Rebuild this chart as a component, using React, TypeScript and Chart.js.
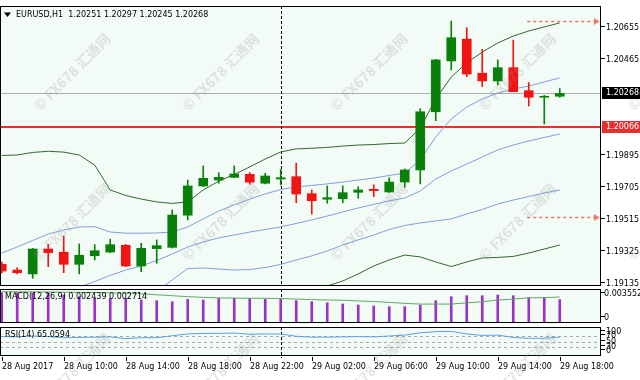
import React, { useEffect, useRef } from "react";
import { Chart, registerables } from "chart.js";

Chart.register(...registerables);

// ---------------- data ----------------
const symbolTitle = "EURUSD,H1  1.20251 1.20297 1.20245 1.20268";
const macdTitle = "MACD(12,26,9) 0.002439 0.002714";
const rsiTitle = "RSI(14) 65.0594";

const xTickIndex = [0, 4, 8, 12, 16, 20, 24, 28, 32, 36];
const xTickLabels = [
  "28 Aug 2017", "28 Aug 10:00", "28 Aug 14:00", "28 Aug 18:00", "28 Aug 22:00",
  "29 Aug 02:00", "29 Aug 06:00", "29 Aug 10:00", "29 Aug 14:00", "29 Aug 18:00",
];

const openP = [
  1.19252, 1.19218, 1.19195, 1.19343, 1.19324, 1.19252, 1.19303, 1.19325, 1.19365, 1.19242,
  1.19345, 1.19353, 1.19544, 1.19718, 1.19753, 1.19769, 1.19787, 1.19734, 1.19759, 1.19773,
  1.19672, 1.19639, 1.19642, 1.19680, 1.19698, 1.19682, 1.19741, 1.19813, 1.20159, 1.20461,
  1.20591, 1.20388, 1.20342, 1.20421, 1.20284, 1.20245, 1.20251,
];
const highP = [
  1.19266, 1.19232, 1.19347, 1.19371, 1.19420, 1.19373, 1.19369, 1.19401, 1.19371, 1.19377,
  1.19397, 1.19575, 1.19753, 1.19837, 1.19797, 1.19837, 1.19797, 1.19793, 1.19817, 1.19853,
  1.19694, 1.19718, 1.19718, 1.19713, 1.19724, 1.19767, 1.19819, 1.20177, 1.20470, 1.20698,
  1.20659, 1.20530, 1.20467, 1.20585, 1.20332, 1.20256, 1.20297,
];
const lowP = [
  1.19201, 1.19195, 1.19169, 1.19238, 1.19202, 1.19195, 1.19278, 1.19321, 1.19238, 1.19208,
  1.19258, 1.19349, 1.19516, 1.19715, 1.19734, 1.19767, 1.19728, 1.19730, 1.19724, 1.19618,
  1.19551, 1.19615, 1.19618, 1.19645, 1.19654, 1.19679, 1.19710, 1.19730, 1.20106, 1.20407,
  1.20367, 1.20308, 1.20318, 1.20278, 1.20193, 1.20086, 1.20245,
];
const closeP = [
  1.19212, 1.19202, 1.19343, 1.19321, 1.19252, 1.19306, 1.19333, 1.19369, 1.19242, 1.19347,
  1.19363, 1.19545, 1.19718, 1.19763, 1.19769, 1.19789, 1.19740, 1.19777, 1.19767, 1.19670,
  1.19630, 1.19648, 1.19678, 1.19694, 1.19690, 1.19741, 1.19813, 1.20159, 1.20467, 1.20599,
  1.20383, 1.20342, 1.20421, 1.20278, 1.20245, 1.20251, 1.20268,
];

// Bollinger bands (outer = green, inner = blue, shared middle)
const bbOuterUpper = [
  1.19899, 1.19902, 1.19917, 1.19924, 1.19919, 1.19902, 1.19842, 1.19694, 1.19661, 1.19640,
  1.19623, 1.19614, 1.19623, 1.19694, 1.19747, 1.19786, 1.19831, 1.19878, 1.19920, 1.19938,
  1.19942, 1.19947, 1.19955, 1.19961, 1.19964, 1.19970, 1.19973, 1.20062, 1.20235, 1.20366,
  1.20449, 1.20514, 1.20568, 1.20609, 1.20639, 1.20663, 1.20687,
];
const bbInnerUpper = [
  1.19319, 1.19355, 1.19394, 1.19432, 1.19456, 1.19474, 1.19476, 1.19444, 1.19437, 1.19437,
  1.19438, 1.19444, 1.19474, 1.19522, 1.19569, 1.19605, 1.19640, 1.19670, 1.19697, 1.19712,
  1.19721, 1.19730, 1.19741, 1.19753, 1.19765, 1.19780, 1.19795, 1.19872, 1.20009, 1.20116,
  1.20187, 1.20235, 1.20270, 1.20294, 1.20312, 1.20336, 1.20360,
];
const bbMiddle = [
  null, null, null, null, null, 1.19117, 1.19150, 1.19186, 1.19218, 1.19242,
  1.19275, 1.19313, 1.19355, 1.19385, 1.19409, 1.19426, 1.19444, 1.19459, 1.19474, 1.19495,
  1.19516, 1.19539, 1.19563, 1.19587, 1.19608, 1.19629, 1.19646, 1.19688, 1.19759, 1.19807,
  1.19848, 1.19890, 1.19932, 1.19961, 1.19985, 1.20006, 1.20027,
];
const bbInnerLower = [
  null, null, null, null, null, null, null, null, null, null,
  1.19088, 1.19159, 1.19227, 1.19230, 1.19224, 1.19218, 1.19221, 1.19233, 1.19251, 1.19278,
  1.19302, 1.19331, 1.19367, 1.19397, 1.19426, 1.19459, 1.19483, 1.19498, 1.19510, 1.19522,
  1.19551, 1.19578, 1.19611, 1.19634, 1.19655, 1.19676, 1.19694,
];
const bbOuterLower = [
  null, null, null, null, null, null, null, null, null, null,
  null, null, null, null, null, null, null, null, null, null,
  1.19082, 1.19123, 1.19153, 1.19195, 1.19242, 1.19278, 1.19307, 1.19296, 1.19266, 1.19239,
  1.19266, 1.19290, 1.19293, 1.19299, 1.19319, 1.19343, 1.19367,
];

const macdHist = [
  0.003165, 0.003165, 0.003103, 0.003103, 0.002925, 0.002748, 0.00258, 0.00258, 0.00258, 0.002403,
  0.00233, 0.002225, 0.002476, 0.002403, 0.00258, 0.00258, 0.00258, 0.002476, 0.002476, 0.00233,
  0.002225, 0.002121, 0.001985, 0.00188, 0.001776, 0.001703, 0.001703, 0.00188, 0.00233, 0.002748,
  0.002852, 0.002852, 0.002925, 0.002852, 0.002643, 0.002643, 0.002439,
];
const macdSignal = [
  0.00327, 0.00326, 0.00325, 0.00324, 0.00322, 0.0032, 0.00318, 0.00315, 0.00312, 0.00305,
  0.00295, 0.00285, 0.00275, 0.00268, 0.00262, 0.0026, 0.00258, 0.00258, 0.00256, 0.0025,
  0.00245, 0.0024, 0.00238, 0.0023, 0.00224, 0.00215, 0.00205, 0.00198, 0.00198, 0.00198,
  0.0021, 0.00222, 0.0024, 0.0025, 0.00263, 0.00265, 0.002714,
];
const rsiValues = [
  67, 66, 69, 67, 63, 64, 65, 66, 60, 63,
  63, 70, 76, 78, 78, 79, 75, 76, 76, 68,
  65, 65, 66, 67, 66, 69, 72, 80, 84, 85,
  76, 71, 72, 64, 61, 61, 65.0594,
];

const priceTicks = [1.20655, 1.20465, 1.19895, 1.19705, 1.19515, 1.19325, 1.19135];
const currentPrice = 1.20268;
const levelPrice = 1.20066;
const arrowPrices = [1.20696, 1.19531];
const arrowFromIndex = 33.9;
const vlineIndex = 18;
const macdAxisLabels = [0.003552, 0];
const rsiLevels = [70, 50, 30];
const rsiAxisLabels = [100, 70, 50, 30, 0];

// ---------------- styling ----------------
const PANEL_BG = "#f3fbf6";
const BULL = "#0a800a";
const BEAR = "#f01414";
const BAND_GREEN = "#2f6a2f";
const BAND_BLUE = "#7f9ee0";
const MACD_BAR = "#9a32c8";
const MACD_SIG = "#62a862";
const RSI_LINE = "#5aa3e4";
const ARROW = "#f07a62";
const LEVEL_RED = "#e83030";
const FONT = '8px "DejaVu Sans", sans-serif';

const X_MIN = -0.11;
const X_MAX = 38.66;
const PRICE_MIN = 1.191231;
const PRICE_MAX = 1.207876;

const idx = openP.map((_, i) => i);
const candleColors = idx.map((i) => (closeP[i] >= openP[i] ? BULL : BEAR));

function baseOptions(padding: any, yMin: number, yMax: number) {
  return {
    responsive: false,
    animation: false,
    devicePixelRatio: 1,
    events: [],
    layout: { padding },
    plugins: { legend: { display: false }, tooltip: { enabled: false }, title: { display: false } },
    scales: {
      x: { type: "linear", display: false, min: X_MIN, max: X_MAX, offset: false },
      y: { type: "linear", display: false, min: yMin, max: yMax },
    },
  };
}

function seriesLine(values: (number | null)[], color: string, order: number) {
  return {
    type: "line",
    data: values.map((v, i) => ({ x: i, y: v })),
    borderColor: color,
    borderWidth: 1,
    pointRadius: 0,
    fill: false,
    tension: 0,
    order,
  };
}

function fillBg(chart: any) {
  const { ctx, chartArea: a } = chart;
  ctx.save();
  ctx.fillStyle = PANEL_BG;
  ctx.fillRect(a.left, a.top, a.right - a.left, a.bottom - a.top);
  ctx.restore();
}

function drawBorder(ctx: any, a: any) {
  ctx.save();
  ctx.strokeStyle = "#000";
  ctx.lineWidth = 1;
  ctx.setLineDash([]);
  ctx.strokeRect(Math.round(a.left) + 0.5, Math.round(a.top) + 0.5, Math.round(a.right - a.left) - 1, Math.round(a.bottom - a.top) - 1);
  ctx.restore();
}

function drawVLine(chart: any, extraBottom: number) {
  const { ctx, chartArea: a, scales } = chart;
  const px = Math.round(scales.x.getPixelForValue(vlineIndex)) + 0.5;
  ctx.save();
  ctx.strokeStyle = "#000";
  ctx.lineWidth = 1;
  ctx.setLineDash([3, 2]);
  ctx.beginPath();
  ctx.moveTo(px, a.top);
  ctx.lineTo(px, a.bottom + extraBottom);
  ctx.stroke();
  ctx.restore();
}

function sideLabel(ctx: any, a: any, text: string, yy: number, dx = 5) {
  ctx.fillStyle = "#000";
  ctx.fillRect(a.right, Math.round(yy) - 2, 4, 1);
  ctx.font = FONT;
  ctx.textAlign = "left";
  ctx.textBaseline = "middle";
  ctx.fillText(text, a.right + dx, yy);
}

function panelTitle(ctx: any, text: string, x: number, y: number) {
  ctx.save();
  ctx.font = FONT;
  ctx.fillStyle = "#000";
  ctx.textAlign = "left";
  ctx.textBaseline = "middle";
  ctx.fillText(text, x, y);
  ctx.restore();
}

// ---------------- plugins ----------------
const mainDecor = {
  id: "mainDecor",
  beforeDraw(chart: any) {
    fillBg(chart);
  },
  beforeDatasetsDraw(chart: any) {
    const { ctx, chartArea: a, scales } = chart;
    const ys = scales.y;
    ctx.save();
    ctx.lineWidth = 1;
    const yc = Math.round(ys.getPixelForValue(currentPrice)) + 0.5;
    ctx.strokeStyle = "#a9aeab";
    ctx.beginPath();
    ctx.moveTo(a.left, yc);
    ctx.lineTo(a.right, yc);
    ctx.stroke();
    const yl = Math.round(ys.getPixelForValue(levelPrice));
    ctx.strokeStyle = LEVEL_RED;
    ctx.lineWidth = 2;
    ctx.beginPath();
    ctx.moveTo(a.left, yl);
    ctx.lineTo(a.right, yl);
    ctx.stroke();
    ctx.restore();
    drawVLine(chart, 0);
  },
  afterDatasetsDraw(chart: any) {
    const { ctx, chartArea: a, scales } = chart;
    const xs = scales.x;
    const ys = scales.y;
    ctx.save();
    // dotted price arrows
    for (const p of arrowPrices) {
      const yy = Math.round(ys.getPixelForValue(p)) + 0.5;
      const x0 = xs.getPixelForValue(arrowFromIndex);
      const x1 = a.right - 7;
      ctx.strokeStyle = ARROW;
      ctx.fillStyle = ARROW;
      ctx.lineWidth = 1.3;
      ctx.setLineDash([3, 3]);
      ctx.beginPath();
      ctx.moveTo(x0, yy);
      ctx.lineTo(x1, yy);
      ctx.stroke();
      ctx.setLineDash([]);
      ctx.beginPath();
      ctx.moveTo(x1, yy - 3.5);
      ctx.lineTo(a.right - 1.5, yy);
      ctx.lineTo(x1, yy + 3.5);
      ctx.closePath();
      ctx.fill();
    }
    ctx.restore();
    drawBorder(ctx, a);
    ctx.save();
    for (const t of priceTicks) sideLabel(ctx, a, t.toFixed(5), ys.getPixelForValue(t));
    const boxes = [
      { v: currentPrice, c: "#000" },
      { v: levelPrice, c: LEVEL_RED },
    ];
    for (const b of boxes) {
      const yy = ys.getPixelForValue(b.v);
      ctx.fillStyle = b.c;
      ctx.fillRect(a.right + 1, Math.round(yy) - 6, 640 - a.right - 1, 12);
      ctx.fillStyle = "#fff";
      ctx.font = FONT;
      ctx.textAlign = "left";
      ctx.textBaseline = "middle";
      ctx.fillText(b.v.toFixed(5), a.right + 5, yy);
    }
    // title with triangle
    ctx.fillStyle = "#000";
    ctx.beginPath();
    ctx.moveTo(4, 12.5);
    ctx.lineTo(11, 12.5);
    ctx.lineTo(7.5, 17);
    ctx.closePath();
    ctx.fill();
    ctx.restore();
    panelTitle(ctx, symbolTitle, 16, a.top + 9);
  },
};

const macdDecor = {
  id: "macdDecor",
  beforeDraw(chart: any) {
    fillBg(chart);
  },
  beforeDatasetsDraw(chart: any) {
    drawVLine(chart, 0);
  },
  afterDatasetsDraw(chart: any) {
    const { ctx, chartArea: a, scales } = chart;
    drawBorder(ctx, a);
    ctx.save();
    for (const v of macdAxisLabels) {
      const p = scales.y.getPixelForValue(v);
      const yy = Math.min(Math.max(p, a.top + 4.5), a.bottom - 5);
      sideLabel(ctx, a, v === 0 ? "0" : v.toFixed(6), yy, 3);
    }
    ctx.restore();
    panelTitle(ctx, macdTitle, 5, a.top + 8);
  },
};

function drawWatermarks(ctx: any) {
  ctx.save();
  ctx.fillStyle = "rgba(150,150,150,0.25)";
  ctx.font = 'bold 14px "Noto Sans CJK SC", "DejaVu Sans", sans-serif';
  ctx.textAlign = "center";
  ctx.textBaseline = "middle";
  for (const cy of [72, 222, 372]) {
    for (const cx of [72, 220.5, 369, 517.5, 666]) {
      ctx.save();
      ctx.translate(cx, cy);
      ctx.rotate(-Math.PI / 4);
      ctx.fillText("© FX678 汇通网", 0, 0);
      ctx.restore();
    }
  }
  ctx.restore();
}

const rsiDecor = {
  id: "rsiDecor",
  beforeDraw(chart: any) {
    fillBg(chart);
  },
  beforeDatasetsDraw(chart: any) {
    const { ctx, chartArea: a, scales } = chart;
    ctx.save();
    ctx.strokeStyle = "#a8a8a8";
    ctx.lineWidth = 1;
    ctx.setLineDash([3, 3]);
    for (const lv of rsiLevels) {
      const yy = Math.round(scales.y.getPixelForValue(lv)) + 0.5;
      ctx.beginPath();
      ctx.moveTo(a.left, yy);
      ctx.lineTo(a.right, yy);
      ctx.stroke();
    }
    ctx.restore();
    drawVLine(chart, 2);
  },
  afterDatasetsDraw(chart: any) {
    const { ctx, chartArea: a, scales } = chart;
    drawBorder(ctx, a);
    ctx.save();
    for (const v of rsiAxisLabels) {
      const p = scales.y.getPixelForValue(v);
      const yy = Math.min(Math.max(p, a.top + 4.5), a.bottom - 5);
      sideLabel(ctx, a, String(v), yy);
    }
    // time axis
    ctx.strokeStyle = "#000";
    ctx.lineWidth = 1;
    ctx.font = FONT;
    ctx.fillStyle = "#000";
    ctx.textAlign = "left";
    ctx.textBaseline = "middle";
    xTickIndex.forEach((ti, k) => {
      const px = Math.round(scales.x.getPixelForValue(ti)) + 0.5;
      ctx.beginPath();
      ctx.moveTo(px, a.bottom + 1);
      ctx.lineTo(px, a.bottom + 5);
      ctx.stroke();
      ctx.fillText(xTickLabels[k], px - 0.5, a.bottom + 11);
    });
    ctx.restore();
    panelTitle(ctx, rsiTitle, 5, a.top + 7.5);
    drawWatermarks(ctx);
  },
};

// ---------------- configs ----------------
function mainConfig(): any {
  return {
    type: "bar",
    data: {
      datasets: [
        {
          type: "bar",
          data: idx.map((i) => ({ x: i, y: [openP[i], closeP[i]] })),
          backgroundColor: candleColors,
          borderWidth: 0,
          barThickness: 9,
          grouped: false,
          minBarLength: 1,
          order: 1,
        },
        {
          type: "bar",
          data: idx.map((i) => ({ x: i, y: [lowP[i], highP[i]] })),
          backgroundColor: candleColors,
          borderWidth: 0,
          barThickness: 1,
          grouped: false,
          order: 2,
        },
        seriesLine(bbOuterUpper, BAND_GREEN, 5),
        seriesLine(bbInnerUpper, BAND_BLUE, 5),
        seriesLine(bbMiddle, BAND_BLUE, 5),
        seriesLine(bbInnerLower, BAND_BLUE, 5),
        seriesLine(bbOuterLower, BAND_GREEN, 5),
      ],
    },
    options: baseOptions({ left: 0, right: 39, top: 6, bottom: 94 }, PRICE_MIN, PRICE_MAX),
    plugins: [mainDecor],
  };
}

function macdConfig(): any {
  return {
    type: "bar",
    data: {
      datasets: [
        {
          type: "bar",
          data: idx.map((i) => ({ x: i, y: macdHist[i] })),
          backgroundColor: MACD_BAR,
          borderWidth: 0,
          barThickness: 2,
          grouped: false,
          order: 2,
        },
        seriesLine(macdSignal, MACD_SIG, 1),
      ],
    },
    options: baseOptions({ left: 0, right: 39, top: 289, bottom: 57 }, 0, 0.003552),
    plugins: [macdDecor],
  };
}

function rsiConfig(): any {
  return {
    type: "line",
    data: { datasets: [seriesLine(rsiValues, RSI_LINE, 1)] },
    options: baseOptions({ left: 0, right: 39, top: 327, bottom: 24 }, 0, 100),
    plugins: [rsiDecor],
  };
}

export default function App() {
  const mainRef = useRef<HTMLCanvasElement>(null);
  const macdRef = useRef<HTMLCanvasElement>(null);
  const rsiRef = useRef<HTMLCanvasElement>(null);

  useEffect(() => {
    const charts = [
      new Chart(mainRef.current as HTMLCanvasElement, mainConfig()),
      new Chart(macdRef.current as HTMLCanvasElement, macdConfig()),
      new Chart(rsiRef.current as HTMLCanvasElement, rsiConfig()),
    ];
    return () => charts.forEach((c) => c.destroy());
  }, []);

  const cs: any = { position: "absolute", left: 0, top: 0, width: 640, height: 380 };
  return (
    <div style={{ position: "fixed", left: 0, top: 0, width: 640, height: 380, background: "#fff", overflow: "hidden" }}>
      <canvas ref={mainRef} width={640} height={380} style={cs} />
      <canvas ref={macdRef} width={640} height={380} style={cs} />
      <canvas ref={rsiRef} width={640} height={380} style={cs} />
    </div>
  );
}
